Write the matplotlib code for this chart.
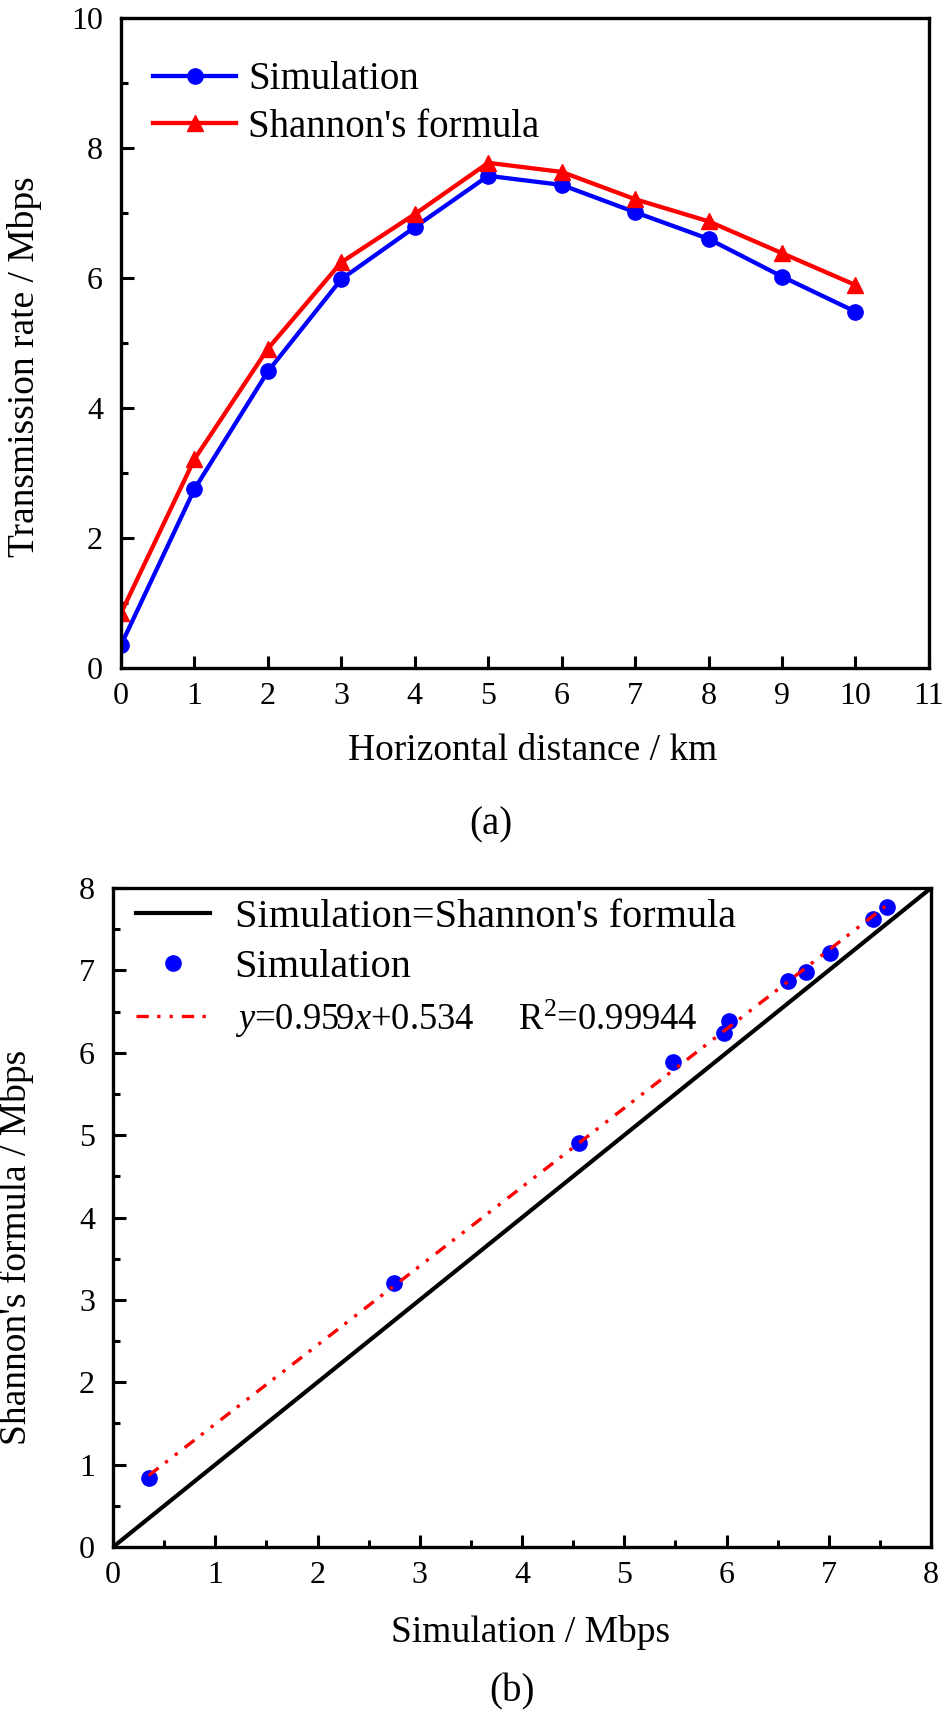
import matplotlib
matplotlib.use("Agg")
import matplotlib.pyplot as plt
import numpy as np
from matplotlib.ticker import MultipleLocator

plt.rcParams['font.family'] = ['Liberation Serif', 'DejaVu Serif']
plt.rcParams['mathtext.fontset'] = 'custom'
plt.rcParams['mathtext.rm'] = 'Liberation Serif'
plt.rcParams['mathtext.it'] = 'Liberation Serif:italic'

# data
distance = [0, 1, 2, 3, 4, 5, 6, 7, 8, 9, 10]
simulation = [0.35, 2.75, 4.56, 5.98, 6.78, 7.57, 7.43, 7.01, 6.60, 6.02, 5.48]
shannon = [0.84, 3.21, 4.91, 6.24, 6.98, 7.77, 7.63, 7.21, 6.87, 6.38, 5.89]
fit_slope = 0.959
fit_intercept = 0.534
fit_r2 = 0.99944

TICK_FS = 23
LABEL_FS = 27
LEG_FS = 28


def style_axes(ax):
    for sp in ax.spines.values():
        sp.set_linewidth(2.4)
    ax.tick_params(which='both', direction='in', top=False, right=False,
                   width=2.2, labelsize=TICK_FS)
    ax.tick_params(which='major', length=9)
    ax.tick_params(which='minor', length=4.7)
    ax.tick_params(axis='x', pad=10)
    ax.tick_params(axis='y', pad=13)


fig = plt.figure(figsize=(9.45, 17.17), dpi=100)

# (a) rate vs distance
ax1 = fig.add_axes([0.1280, 0.6110, 0.8550, 0.3786])
ax1.plot(distance, simulation, color='#0000ff', lw=3.1, marker='o', ms=11,
         label='Simulation')
ax1.plot(distance, shannon, color='#ff0000', lw=3.1, marker='^', ms=12,
         label="Shannon's formula")
ax1.set_xlim(0, 11)
ax1.set_ylim(0, 10)
ax1.xaxis.set_major_locator(MultipleLocator(1))
ax1.yaxis.set_major_locator(MultipleLocator(2))
ax1.yaxis.set_minor_locator(MultipleLocator(1))
style_axes(ax1)
ax1.set_xlabel('Horizontal distance / km', fontsize=LABEL_FS, va='center')
ax1.set_ylabel('Transmission rate / Mbps', fontsize=LABEL_FS, va='center')
ax1.xaxis.set_label_coords(0.51, -0.128)
ax1.yaxis.set_label_coords(-0.119, 0.463)
ax1.legend(loc='upper left', bbox_to_anchor=(0.040, 0.933), frameon=False,
           fontsize=LEG_FS, borderpad=0, borderaxespad=0, handlelength=2.13,
           handletextpad=0.31, labelspacing=0.27, numpoints=1)

# (b) simulation vs formula
ax2 = fig.add_axes([0.1196, 0.0990, 0.8656, 0.3838])
ax2.plot([0, 8], [0, 8], color='black', lw=3.0,
         label="Simulation=Shannon's formula")
ax2.plot(simulation, shannon, ls='none', marker='o', ms=11, color='#0000ff',
         label='Simulation')
fx = np.array([min(simulation), max(simulation)])
ax2.plot(fx, fit_slope * fx + fit_intercept, color='#ff0000', lw=2.4,
         ls=(0, (3.7, 2.5, 1, 2.7, 1, 2.7)), zorder=3,
         label=r"$y$=%.3f$x$+%.3f     $\mathrm{R}^2$=%.5f" % (fit_slope, fit_intercept, fit_r2))
ax2.set_xlim(0, 8)
ax2.set_ylim(0, 8)
for axis in (ax2.xaxis, ax2.yaxis):
    axis.set_major_locator(MultipleLocator(1))
    axis.set_minor_locator(MultipleLocator(0.5))
style_axes(ax2)
ax2.set_xlabel('Simulation / Mbps', fontsize=LABEL_FS, va='center')
ax2.set_ylabel("Shannon's formula / Mbps", fontsize=LABEL_FS, va='center')
ax2.xaxis.set_label_coords(0.51, -0.129)
ax2.yaxis.set_label_coords(-0.118, 0.454)
leg2 = ax2.legend(loc='upper left', bbox_to_anchor=(0.028, 0.983), frameon=False,
                  fontsize=29, borderpad=0, borderaxespad=0, handlelength=1.85,
                  handletextpad=0.6, labelspacing=0.3, numpoints=1)
leg2.get_texts()[2].set_fontsize(26.3)

fig.text(0.5196, 0.5195, '(a)', fontsize=LEG_FS, ha='center', va='center')
fig.text(0.5418, 0.0146, '(b)', fontsize=LEG_FS, ha='center', va='center')

fig.savefig('out.png', dpi=100)
